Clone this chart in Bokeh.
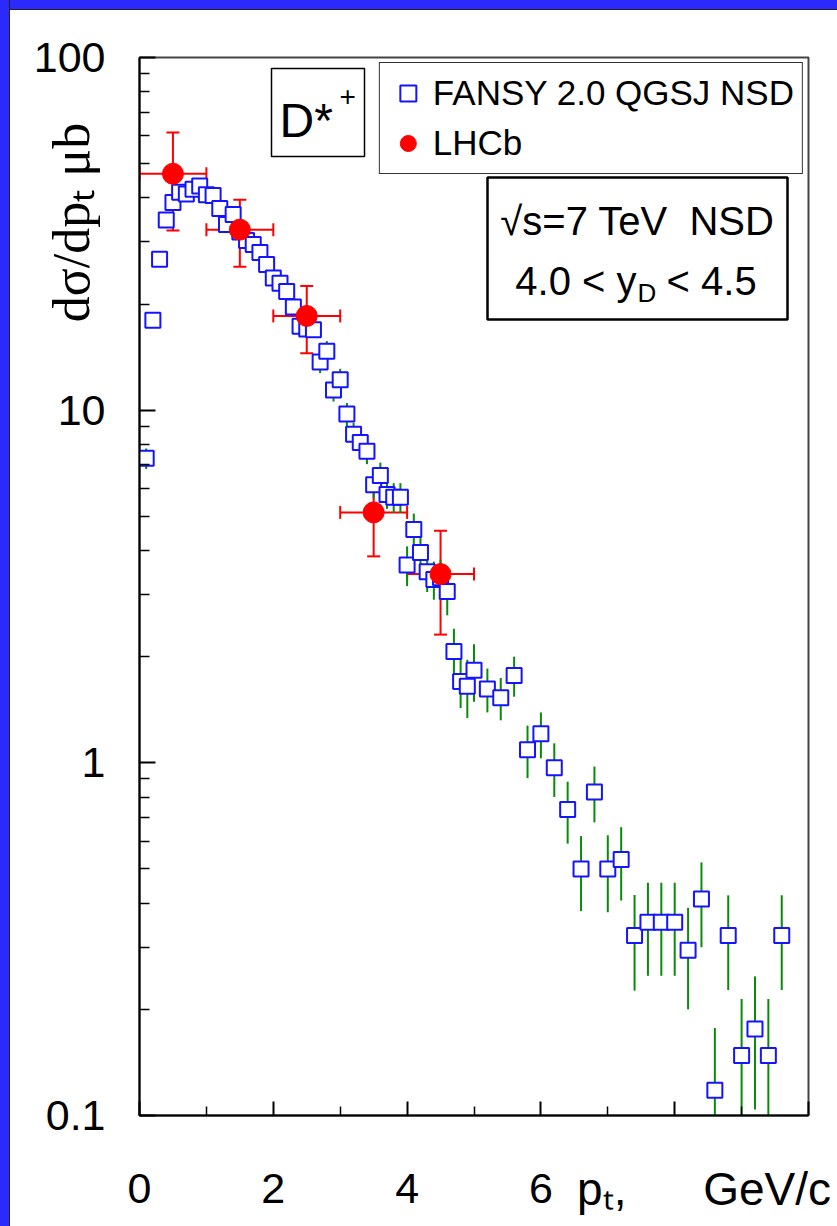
import numpy as np
from bokeh.plotting import figure
from bokeh.models import (ColumnDataSource, Whisker, TeeHead, Legend, LegendItem, Label,
                          BoxAnnotation, FixedTicker, CustomJSTickFormatter)
from bokeh.embed import file_html
from bokeh.resources import INLINE

# ---------------- data ----------------
fansy_pt = [0.1, 0.2, 0.3, 0.4, 0.5, 0.6, 0.7, 0.8, 0.9, 1.0,
            1.1, 1.2, 1.3, 1.4, 1.5, 1.6, 1.7, 1.8, 1.9, 2.0,
            2.1, 2.2, 2.3, 2.4, 2.5, 2.6, 2.7, 2.8, 2.9, 3.0,
            3.1, 3.2, 3.3, 3.4, 3.5, 3.6, 3.7, 3.8, 3.9, 4.0,
            4.1, 4.2, 4.3, 4.4, 4.5, 4.6, 4.7, 4.8, 4.9, 5.0,
            5.2, 5.4, 5.6, 5.8, 6.0, 6.2, 6.4, 6.6, 6.8, 7.0,
            7.2, 7.4, 7.6, 7.8, 8.0, 8.2, 8.4, 8.6, 8.8, 9.0,
            9.2, 9.4, 9.6]
fansy_val = [7.3, 18.0, 26.8, 34.6, 38.8, 41.5, 41.0, 42.3, 43.2, 40.8,
             40.6, 37.3, 33.6, 35.9, 32.0, 30.3, 29.5, 28.0, 25.9, 23.7,
             22.9, 21.7, 19.6, 17.3, 17.0, 16.9, 13.7, 14.7, 11.4, 12.2,
             9.75, 8.55, 8.1, 7.65, 6.14, 6.53, 5.77, 5.66, 5.66, 3.64,
             4.59, 3.95, 3.48, 3.31, 3.35, 3.06, 2.07, 1.70, 1.65, 1.83,
             1.62, 1.53, 1.77, 1.09, 1.21, 0.968, 0.737, 0.50, 0.827, 0.50,
             0.532, 0.324, 0.353, 0.353, 0.353, 0.294, 0.411, 0.118, 0.324, 0.148,
             0.176, 0.148, 0.324]
fansy_err = [0.49, 0.9, 1.07, 1.04, 1.16, 1.25, 1.23, 1.27, 1.3, 1.22,
             1.22, 1.12, 1.01, 1.08, 0.96, 0.91, 0.9, 0.87, 0.83, 0.78,
             0.78, 0.76, 0.71, 0.66, 0.66, 0.68, 0.96, 1.0, 0.82, 0.9,
             0.73, 0.66, 0.64, 0.62, 0.52, 0.57, 0.52, 0.55, 0.55, 0.47,
             0.50, 0.47, 0.43, 0.41, 0.42, 0.44, 0.33, 0.27, 0.31, 0.34,
             0.23, 0.21, 0.23, 0.185, 0.18, 0.168, 0.147, 0.12, 0.149, 0.123,
             0.125, 0.098, 0.104, 0.104, 0.104, 0.094, 0.111, 0.059, 0.097, 0.066,
             0.072, 0.066, 0.097]

lhcb_pt = [0.5, 1.5, 2.5, 3.5, 4.5]
lhcb_pt_err = [0.5, 0.5, 0.5, 0.5, 0.5]
lhcb_val = [46.8, 32.5, 18.5, 5.13, 3.43]
lhcb_err = [14.5, 7.0, 4.0, 1.28, 1.12]

x_ticks = [0, 2, 4, 6, 8, 10]
x_tick_labels = ["0", "2", "4", "6", "", ""]
x_minor = [1, 3, 5, 7, 9]
y_ticks = [0.1, 1, 10, 100]
y_tick_labels = ["0.1", "1", "10", "100"]
y_minor = [0.2, 0.3, 0.4, 0.5, 0.6, 0.7, 0.8, 0.9, 2, 3, 4, 5, 6, 7, 8, 9,
           20, 30, 40, 50, 60, 70, 80, 90]

# ---------------- layout helpers (page pixels) ----------------
PAGE_W, PAGE_H = 837, 1226
STRIP = 9                            # blue slide frame strips (left / top)
W, H = PAGE_W, PAGE_H
FL, FR, FT, FB = 139, 808, 57, 1115  # plot frame edges in page px
X0, X1 = 0.0, 10.0
Y0, Y1 = 0.1, 100.0


def X(px):
    return X0 + (px - FL) / (FR - FL) * (X1 - X0)


def Y(py):
    lo, hi = np.log10(Y0), np.log10(Y1)
    return 10 ** (lo + (FB - py) / (FB - FT) * (hi - lo))


FONT = "Liberation Sans"
BLUE = "#1414ff"
GREEN = "#0a8a0a"
RED = "#ff0000"
FRAME_BLUE = "#2a2aff"
NB = "\u00a0"

p = figure(width=W, height=H, x_range=(X0, X1), y_range=(Y0, Y1), y_axis_type="log",
           output_backend="svg", toolbar_location=None,
           min_border_left=FL, min_border_right=PAGE_W - FR,
           min_border_top=FT, min_border_bottom=PAGE_H - FB)
# slide background: blue strips on the left and top, white elsewhere (seen through the
# transparent border area of the canvas)
p.styles = {"background": (
    "linear-gradient(to right, {c} 0px, {c} {s}px, #222 {s}px, #222 {s1}px, transparent {s1}px), "
    "linear-gradient(to bottom, {c} 0px, {c} {s}px, #222 {s}px, #222 {s1}px, #ffffff {s1}px)"
).format(c=FRAME_BLUE, s=STRIP, s1=STRIP + 1)}
p.grid.visible = False
p.background_fill_color = "white"
p.border_fill_alpha = 0.0
p.outline_line_color = "#444444"
p.outline_line_width = 2

# axes
for ax in (p.xaxis[0], p.yaxis[0]):
    ax.axis_line_color = "black"
    ax.axis_line_width = 2
    ax.major_tick_line_color = "black"
    ax.minor_tick_line_color = "black"
    ax.major_tick_line_width = 2
    ax.minor_tick_line_width = 1.5
    ax.major_tick_out = 0
    ax.minor_tick_out = 0
    ax.major_label_text_font = FONT
    ax.major_label_text_font_size = "43px"
    ax.major_label_text_color = "black"
    ax.axis_label_text_color = "black"
    ax.axis_label_text_font_style = "normal"

p.xaxis.ticker = FixedTicker(ticks=x_ticks, minor_ticks=x_minor)
p.xaxis.formatter = CustomJSTickFormatter(args=dict(t=x_ticks, l=x_tick_labels), code="""
for (let i = 0; i < t.length; i++) { if (Math.abs(t[i] - tick) < 1e-9) return l[i]; }
return '';""")
p.xaxis.major_tick_in = 14
p.xaxis.minor_tick_in = 9
p.xaxis.major_label_standoff = 58
# title sits at the right end of the axis (leading no-break spaces push it there)
p.xaxis.axis_label = NB * 36 + "p\u209c," + NB * 6 + "GeV/c"
p.xaxis.axis_label_text_font = FONT
p.xaxis.axis_label_text_font_size = "46px"
p.xaxis.axis_label_standoff = -43

p.yaxis.ticker = FixedTicker(ticks=y_ticks, minor_ticks=y_minor)
p.yaxis.formatter = CustomJSTickFormatter(args=dict(t=y_ticks, l=y_tick_labels), code="""
for (let i = 0; i < t.length; i++) { if (Math.abs(t[i] - tick) < 1e-6 * t[i]) return l[i]; }
return '';""")
p.yaxis.major_tick_in = 16
p.yaxis.minor_tick_in = 10
p.yaxis.major_label_standoff = 34
# title sits near the top of the axis (leading no-break spaces push it there)
p.yaxis.axis_label = NB * 56 + "d\u03c3/dp\u209c \u03bcb"
p.yaxis.axis_label_text_font = "Liberation Serif"
p.yaxis.axis_label_text_font_size = "52px"
p.yaxis.axis_label_standoff = -69

# ---------------- FANSY ----------------
fv = np.array(fansy_val)
fe = np.array(fansy_err)
fsrc = ColumnDataSource(dict(x=fansy_pt, y=fansy_val, lo=fv - fe, hi=fv + fe))
p.segment(x0="x", y0="lo", x1="x", y1="hi", source=fsrc, line_color=GREEN, line_width=2)
sq = p.scatter("x", "y", source=fsrc, marker="square", size=15, line_color=BLUE,
               line_width=2, fill_color="white")

# ---------------- LHCb ----------------
lv = np.array(lhcb_val)
le = np.array(lhcb_err)
lx = np.array(lhcb_pt)
lxe = np.array(lhcb_pt_err)
lsrc = ColumnDataSource(dict(x=lx, y=lv, ylo=lv - le, yhi=lv + le, xlo=lx - lxe, xhi=lx + lxe))
p.add_layout(Whisker(source=lsrc, base="x", lower="ylo", upper="yhi", dimension="height",
                     line_color=RED, line_width=2,
                     upper_head=TeeHead(size=13, line_color=RED, line_width=2),
                     lower_head=TeeHead(size=13, line_color=RED, line_width=2)))
p.add_layout(Whisker(source=lsrc, base="y", lower="xlo", upper="xhi", dimension="width",
                     line_color=RED, line_width=2,
                     upper_head=TeeHead(size=13, line_color=RED, line_width=2),
                     lower_head=TeeHead(size=13, line_color=RED, line_width=2)))
circ = p.scatter("x", "y", source=lsrc, marker="circle", size=21, line_color=RED,
                 fill_color=RED)

# ---------------- legend ----------------
legend = Legend(items=[LegendItem(label="FANSY 2.0 QGSJ NSD", renderers=[sq]),
                       LegendItem(label="LHCb", renderers=[circ])],
                location="top_right", margin=5, padding=8, spacing=6,
                glyph_width=40, glyph_height=44, label_height=44, label_standoff=5,
                label_text_font=FONT, label_text_font_size="35px", label_text_color="black",
                border_line_color="#333333", border_line_width=1.5, border_line_alpha=1.0,
                background_fill_color="white", background_fill_alpha=1.0)
p.add_layout(legend)

BASE_SHIFT = 0.37  # empirical: rendered alphabetic baseline sits ~0.37 em below the anchor


def add_text(px, py, text, size_px, align="left"):
    p.add_layout(Label(x=X(px), y=Y(py - BASE_SHIFT * size_px), text=text, text_font=FONT,
                       text_font_size="%dpx" % size_px, text_align=align,
                       text_baseline="alphabetic", text_color="black"))


# ---------------- text boxes ----------------
p.add_layout(BoxAnnotation(left=X(271), right=X(364), top=Y(68), bottom=Y(156),
                           line_color="black", line_alpha=1.0, line_width=1.5,
                           fill_color="white", fill_alpha=1.0))
add_text(279, 138, "D*", 48)
add_text(339, 106, "+", 28)

p.add_layout(BoxAnnotation(left=X(487), right=X(787), top=Y(177), bottom=Y(319),
                           line_color="black", line_alpha=1.0, line_width=2.5,
                           fill_color="white", fill_alpha=1.0))
add_text(637, 235, "\u221as=7 TeV" + NB * 2 + "NSD", 40, align="center")
add_text(636, 295, "4.0 < y", 40, align="right")
add_text(637, 302, "D", 26)
add_text(655, 295, NB + "< 4.5", 40)

open("out.html", "w").write(file_html(p, INLINE))
